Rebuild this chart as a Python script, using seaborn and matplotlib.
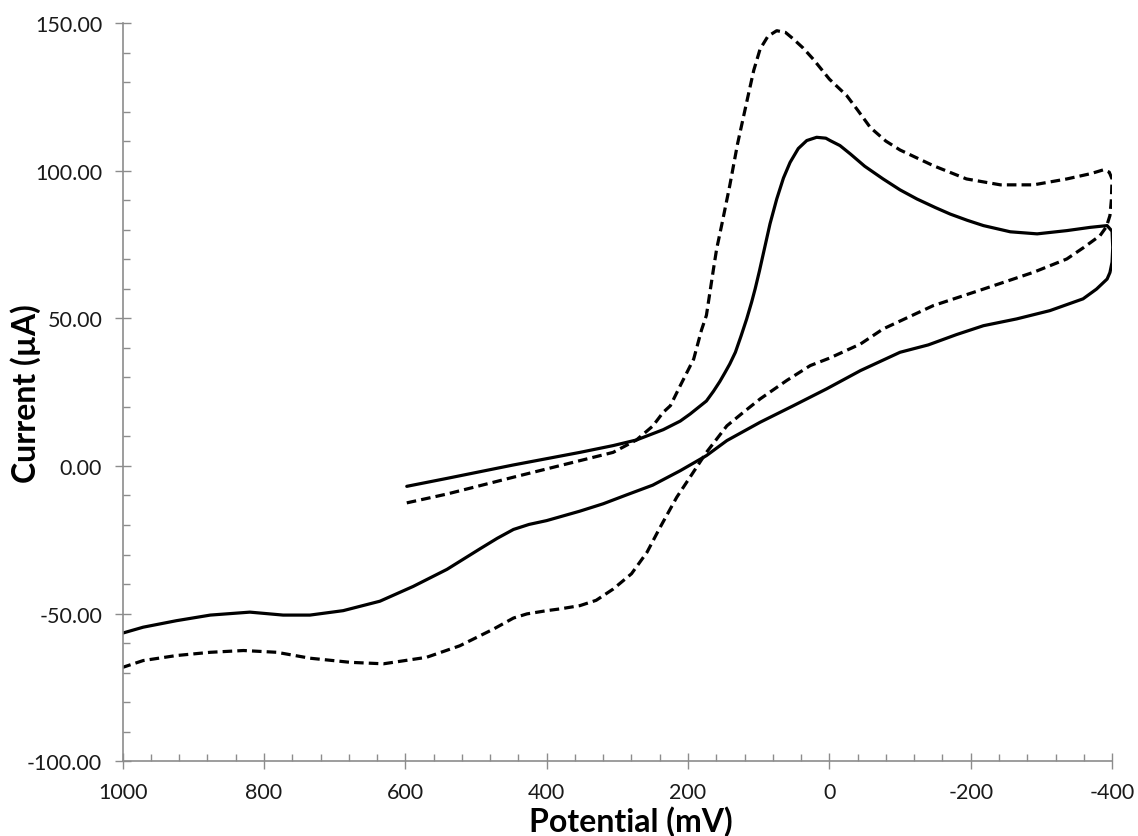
import matplotlib
matplotlib.use("Agg")
import matplotlib.pyplot as plt
import matplotlib.ticker as mticker
import pandas as pd
import seaborn as sns

# Cyclic voltammogram, solid scan: potential (mV) and current (uA), in scan order
solid_potential = [598, 541, 448, 353, 306, 273, 235, 211, 197, 174, 164, 155, 148, 141, 133,
                   125, 117, 110, 105, 99, 93, 84, 74.5, 65, 55.6, 44, 32, 18, 5, -1, -15, -30,
                   -50, -76, -100, -124, -150, -171, -195, -218, -256, -294, -336, -369, -393,
                   -400, -401, -400, -397, -393, -378, -359, -312, -265, -218, -180, -140,
                   -100, -44, 4, 51, 98, 145, 174, 211, 250, 287, 320, 353, 400, 425, 447, 470,
                   494, 541, 589, 636, 688, 735, 773, 820, 876, 924, 971, 1000]
solid_current = [-6.9, -4.2, 0.3, 4.6, 6.9, 8.8, 12.3, 15.2, 17.6, 22, 25.3, 28.6, 31.5, 34.5,
                 38.5, 44, 49.8, 55.5, 60, 66, 72.4, 82, 90.4, 97.5, 102.8, 107.5, 110.2, 111.3,
                 111, 110.2, 108.5, 105.6, 101.5, 97.2, 93.5, 90.4, 87.5, 85.3, 83.2, 81.4, 79.3,
                 78.6, 79.7, 80.8, 81.4, 79.5, 74, 69, 65.5, 63.3, 59.9, 56.6, 52.6, 49.8, 47.5,
                 44.5, 41, 38.5, 32.3, 26.1, 20.4, 14.8, 8.6, 3.5, -1.6, -6.5, -9.8, -12.8,
                 -15.3, -18.5, -19.8, -21.5, -24.5, -28, -35, -40.8, -45.8, -49, -50.5, -50.5,
                 -49.5, -50.5, -52.4, -54.6, -56.6]

# Dashed scan
dashed_potential = [598, 541, 447, 353, 306, 273, 250, 235, 225, 211, 192, 181, 174, 164, 159.5,
                    152, 141, 130, 117, 107, 98, 87, 74.5, 62, 51, 37, 23, 0, -24.6, -40, -58,
                    -80, -100, -147, -194, -242, -289, -336, -370, -388, -396, -400, -399, -397,
                    -392, -383, -360, -336, -289, -218, -147, -76, -44, 0, 27, 60, 98, 120, 145,
                    174, 195, 216, 240, 258, 280, 306, 330, 353, 381, 400, 428, 447, 475, 523,
                    570, 631, 678, 735, 782, 829, 876, 924, 971, 1000]
dashed_current = [-12.5, -9.5, -3.8, 1.8, 4.6, 8.8, 13.5, 18.2, 20.4, 27.2, 36.2, 46, 51, 66.7,
                  73.5, 82, 94.9, 109, 123.2, 134, 141.2, 145.5, 147.4, 146.8, 144.6, 141.5,
                  137.8, 131, 125.4, 120.5, 114.6, 110, 107, 101.7, 97.2, 95.2, 95.2, 97.2, 99,
                  100.3, 99.5, 97.2, 90, 84.8, 81, 78, 74, 70.1, 65.6, 59.9, 54.3, 46.4, 41.3,
                  36.5, 34, 29, 22.7, 18.5, 13.6, 4.6, -3, -10.6, -21, -29.2, -36.5, -41.7,
                  -45.5, -47.3, -48.4, -49, -50.1, -51.5, -55.2, -60.9, -64.8, -67, -66.5,
                  -65.1, -63.1, -62.5, -63.1, -64.2, -65.9, -68.2]

x_ticks = [1000, 800, 600, 400, 200, 0, -200, -400]
y_ticks = [-100, -50, 0, 50, 100, 150]

sns.set_style("white")
plt.rcParams["font.family"] = ["Lato", "DejaVu Sans"]

fig = plt.figure(figsize=(11.38, 8.37), dpi=100)
ax = fig.add_axes([0.1078, 0.0893, 0.8694, 0.882])

solid_df = pd.DataFrame({"Potential": solid_potential, "Current": solid_current})
dashed_df = pd.DataFrame({"Potential": dashed_potential, "Current": dashed_current})

sns.lineplot(data=solid_df, x="Potential", y="Current", sort=False, estimator=None,
             color="black", linewidth=2.3, ax=ax)
sns.lineplot(data=dashed_df, x="Potential", y="Current", sort=False, estimator=None,
             color="black", linewidth=2.3, linestyle=(0, (3.0, 1.6)), ax=ax)

ax.set_xlim(1000, -400)
ax.set_ylim(-100, 150)
ax.set_xticks(x_ticks)
ax.set_yticks(y_ticks)
ax.xaxis.set_minor_locator(mticker.MultipleLocator(40))
ax.yaxis.set_minor_locator(mticker.MultipleLocator(10))
ax.yaxis.set_major_formatter(mticker.FuncFormatter(lambda v, p: f"{v:.2f}"))
ax.xaxis.set_major_formatter(mticker.FuncFormatter(lambda v, p: f"{v:.0f}"))

axis_gray = "#8c8c8c"
for side in ["top", "right"]:
    ax.spines[side].set_visible(False)
for side in ["left", "bottom"]:
    ax.spines[side].set_color(axis_gray)
    ax.spines[side].set_linewidth(1.2)

ax.tick_params(which="both", bottom=True, left=True, top=False, right=False)
ax.tick_params(which="major", direction="inout", length=11.5, width=1.0, color=axis_gray,
               labelsize=15.5, labelcolor="#1a1a1a", pad=9)
ax.tick_params(which="minor", direction="in", length=4.8, width=1.0, color=axis_gray)

ax.set_xlabel("Potential (mV)", fontsize=23, fontweight="bold", color="black")
ax.set_ylabel("Current (µA)", fontsize=23, fontweight="bold", color="black")
ax.xaxis.set_label_coords(0.514, -0.06)
ax.yaxis.set_label_coords(-0.083, 0.5)

fig.savefig("out.png", dpi=100)
